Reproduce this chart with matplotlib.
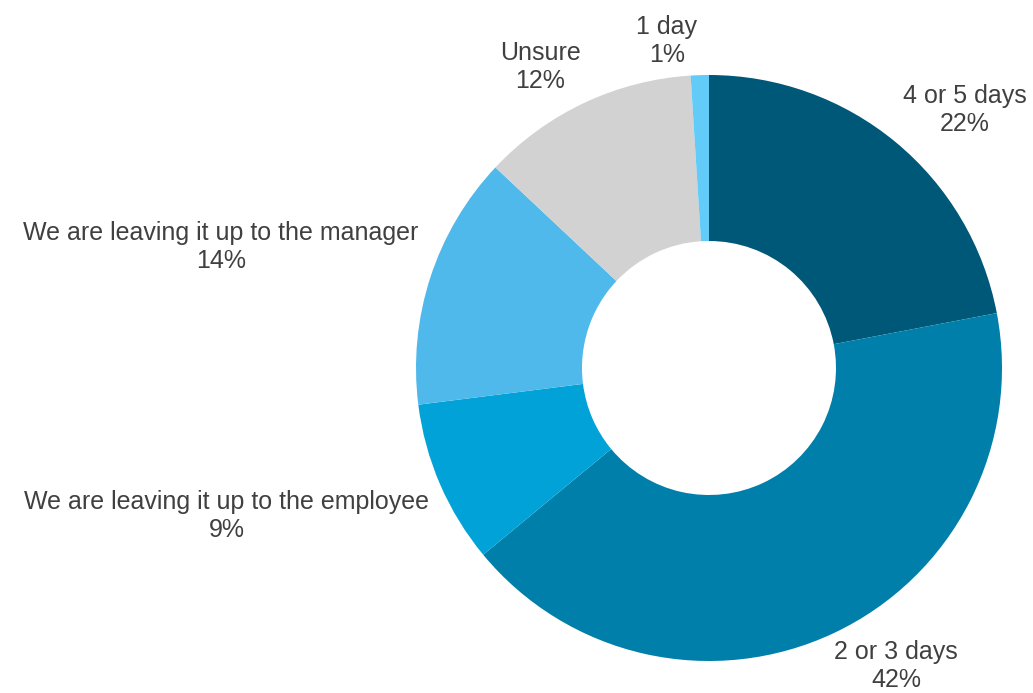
import matplotlib
matplotlib.use("Agg")
import matplotlib.pyplot as plt

categories = ["4 or 5 days", "2 or 3 days", "We are leaving it up to the employee",
              "We are leaving it up to the manager", "Unsure", "1 day"]
values = [22, 42, 9, 14, 12, 1]
colors = ["#005878", "#007fab", "#00a2d8", "#4eb9ea", "#d2d2d2", "#62cbf8"]

# label block centres in pixels (x, y from top)
label_pos = [(965, 110), (896, 666), (227, 516), (221, 247), (540, 67), (667, 41)]

W, H = 1033, 693
plt.rcParams['font.family'] = ['Liberation Sans', 'DejaVu Sans']

fig = plt.figure(figsize=(W / 100, H / 100), dpi=100)
ax = fig.add_axes([0, 0, 1, 1])

cx, cy = 709, H - 368
r_out, r_in = 293, 127
ax.pie(values, colors=colors, startangle=90, counterclock=False,
       center=(cx, cy), radius=r_out,
       wedgeprops=dict(width=r_out - r_in, linewidth=0))

for name, v, (lx, ly) in zip(categories, values, label_pos):
    ax.text(lx, H - ly, f"{name}\n{v}%", ha="center", va="center",
            fontsize=18, color="#404040", linespacing=1.2)

ax.set_xlim(0, W)
ax.set_ylim(0, H)
ax.set_aspect("equal")
ax.axis("off")

fig.savefig("out.png", dpi=100)
